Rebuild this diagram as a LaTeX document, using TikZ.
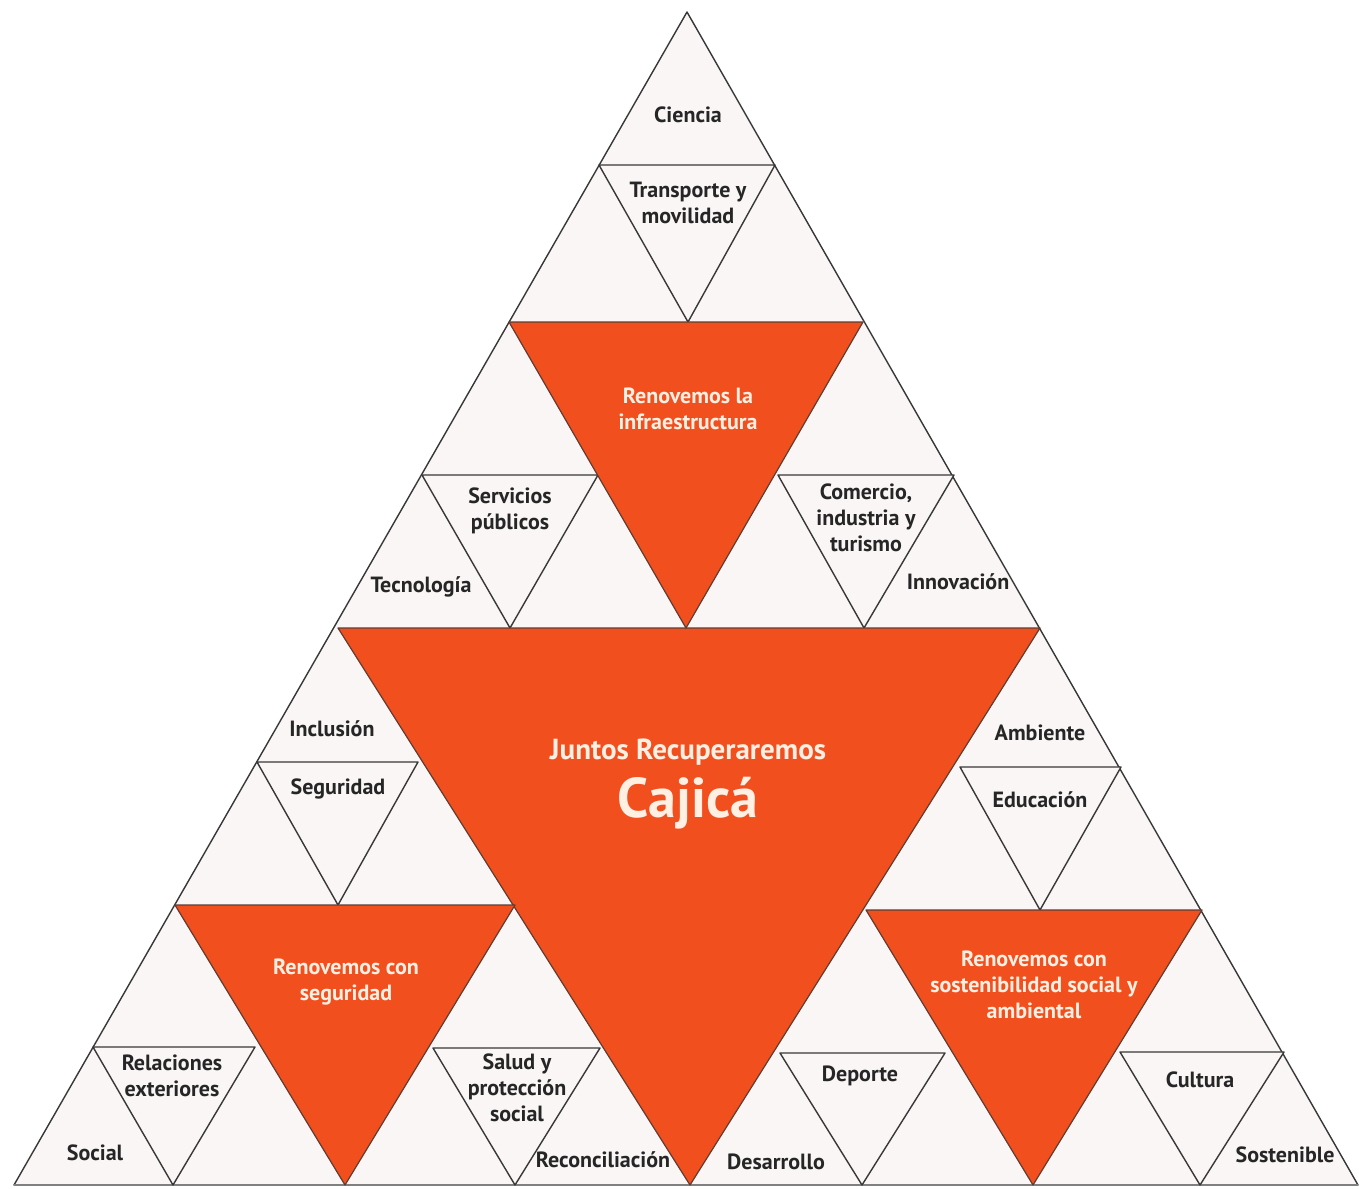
\documentclass[tikz,border=0pt]{standalone}
\usepackage{fontspec}
\setmainfont{PT Sans}
\usepackage{tikz}
\definecolor{corange}{rgb}{0.95, 0.31, 0.12}
\definecolor{cpale}{rgb}{0.975, 0.965, 0.96}
\definecolor{cline}{rgb}{0.22, 0.22, 0.22}
\definecolor{ctext}{rgb}{1, 0.94, 0.89}
\tikzset{tri/.style = {fill = cpale, draw = cline, line width = 0.7pt, line join = round}}
\tikzset{otri/.style = {fill = corange, draw = cline!80!corange, line width = 0.6pt, line join = round}}
\tikzset{lbl/.style = {align = center, font = \bfseries\fontsize{11}{13}\selectfont, text = black!85, inner sep = 0}}
\tikzset{olbl/.style = {lbl, text = ctext}}

\begin{document}
\begin{tikzpicture}[x=0.5pt, y=-0.5pt]
    \useasboundingbox [fill = white] (0, 0) rectangle (1359, 1188);

    % outer triangle
    \draw [tri] (687, 12) -- (1358, 1185) -- (14, 1185) -- cycle;
    \draw [gray, line width = 1.3pt] (14, 1185) -- (1358, 1185);

    % white inner triangles
    \draw [tri] (599, 165) -- (775, 165) -- (688, 322) -- cycle;
    \draw [tri] (422, 475) -- (598, 475) -- (510, 628) -- cycle;
    \draw [tri] (778, 475) -- (954, 475) -- (864, 628) -- cycle;
    \draw [tri] (257, 762) -- (418, 762) -- (338, 905) -- cycle;
    \draw [tri] (93, 1047) -- (255, 1047) -- (173, 1185) -- cycle;
    \draw [tri] (433, 1048) -- (600, 1048) -- (515, 1185) -- cycle;
    \draw [tri] (960, 767) -- (1121, 767) -- (1040, 910) -- cycle;
    \draw [tri] (780, 1053) -- (945, 1053) -- (862, 1185) -- cycle;
    \draw [tri] (1120, 1052) -- (1284, 1052) -- (1200, 1185) -- cycle;

    % orange triangles
    \draw [otri] (338, 628) -- (1040, 628) -- (690, 1185) -- cycle;
    \draw [otri] (509, 322) -- (863, 322) -- (686, 628) -- cycle;
    \draw [otri] (175, 905) -- (515, 905) -- (345, 1185) -- cycle;
    \draw [otri] (866, 910) -- (1202, 910) -- (1033, 1185) -- cycle;

    % labels
    \node [lbl] (ciencia) at (688, 115) {Ciencia};
    \node [lbl] (transporte) at (688, 203) {Transporte y\\movilidad};
    \node [olbl] (infra) at (688, 409) {Renovemos la\\infraestructura};
    \node [lbl] (servicios) at (510, 511) {Servicios\\públicos};
    \node [lbl] (tecnologia) at (421, 587) {Tecnología};
    \node [lbl] (comercio) at (866, 518) {Comercio,\\industria y\\turismo};
    \node [lbl] (innovacion) at (958, 582) {Innovación};

    \node [olbl, font = \bfseries\fontsize{14.5}{17}\selectfont] (juntos) at (688, 752) {Juntos Recuperaremos};
    \node [olbl, font = \bfseries\fontsize{28}{32}\selectfont] (cajica) at (688, 803) {Cajicá};

    \node [lbl] (inclusion) at (332, 729) {Inclusión};
    \node [lbl] (seguridad) at (338, 789) {Seguridad};
    \node [olbl] (rseguridad) at (346, 982) {Renovemos con\\seguridad};
    \node [lbl] (relaciones) at (172, 1076) {Relaciones\\exteriores};
    \node [lbl] (social) at (95, 1153) {Social};
    \node [lbl] (salud) at (517, 1088) {Salud y\\protección\\social};
    \node [lbl] (reconciliacion) at (603, 1160) {Reconciliación};

    \node [lbl] (ambiente) at (1040, 733) {Ambiente};
    \node [lbl] (educacion) at (1040, 800) {Educación};
    \node [olbl] (rsostenible) at (1034, 985) {Renovemos con\\sostenibilidad social y\\ambiental};
    \node [lbl] (deporte) at (860, 1076) {Deporte};
    \node [lbl] (desarrollo) at (776, 1162) {Desarrollo};
    \node [lbl] (cultura) at (1200, 1080) {Cultura};
    \node [lbl] (sostenible) at (1285, 1155) {Sostenible};
  \end{tikzpicture}
\end{document}
